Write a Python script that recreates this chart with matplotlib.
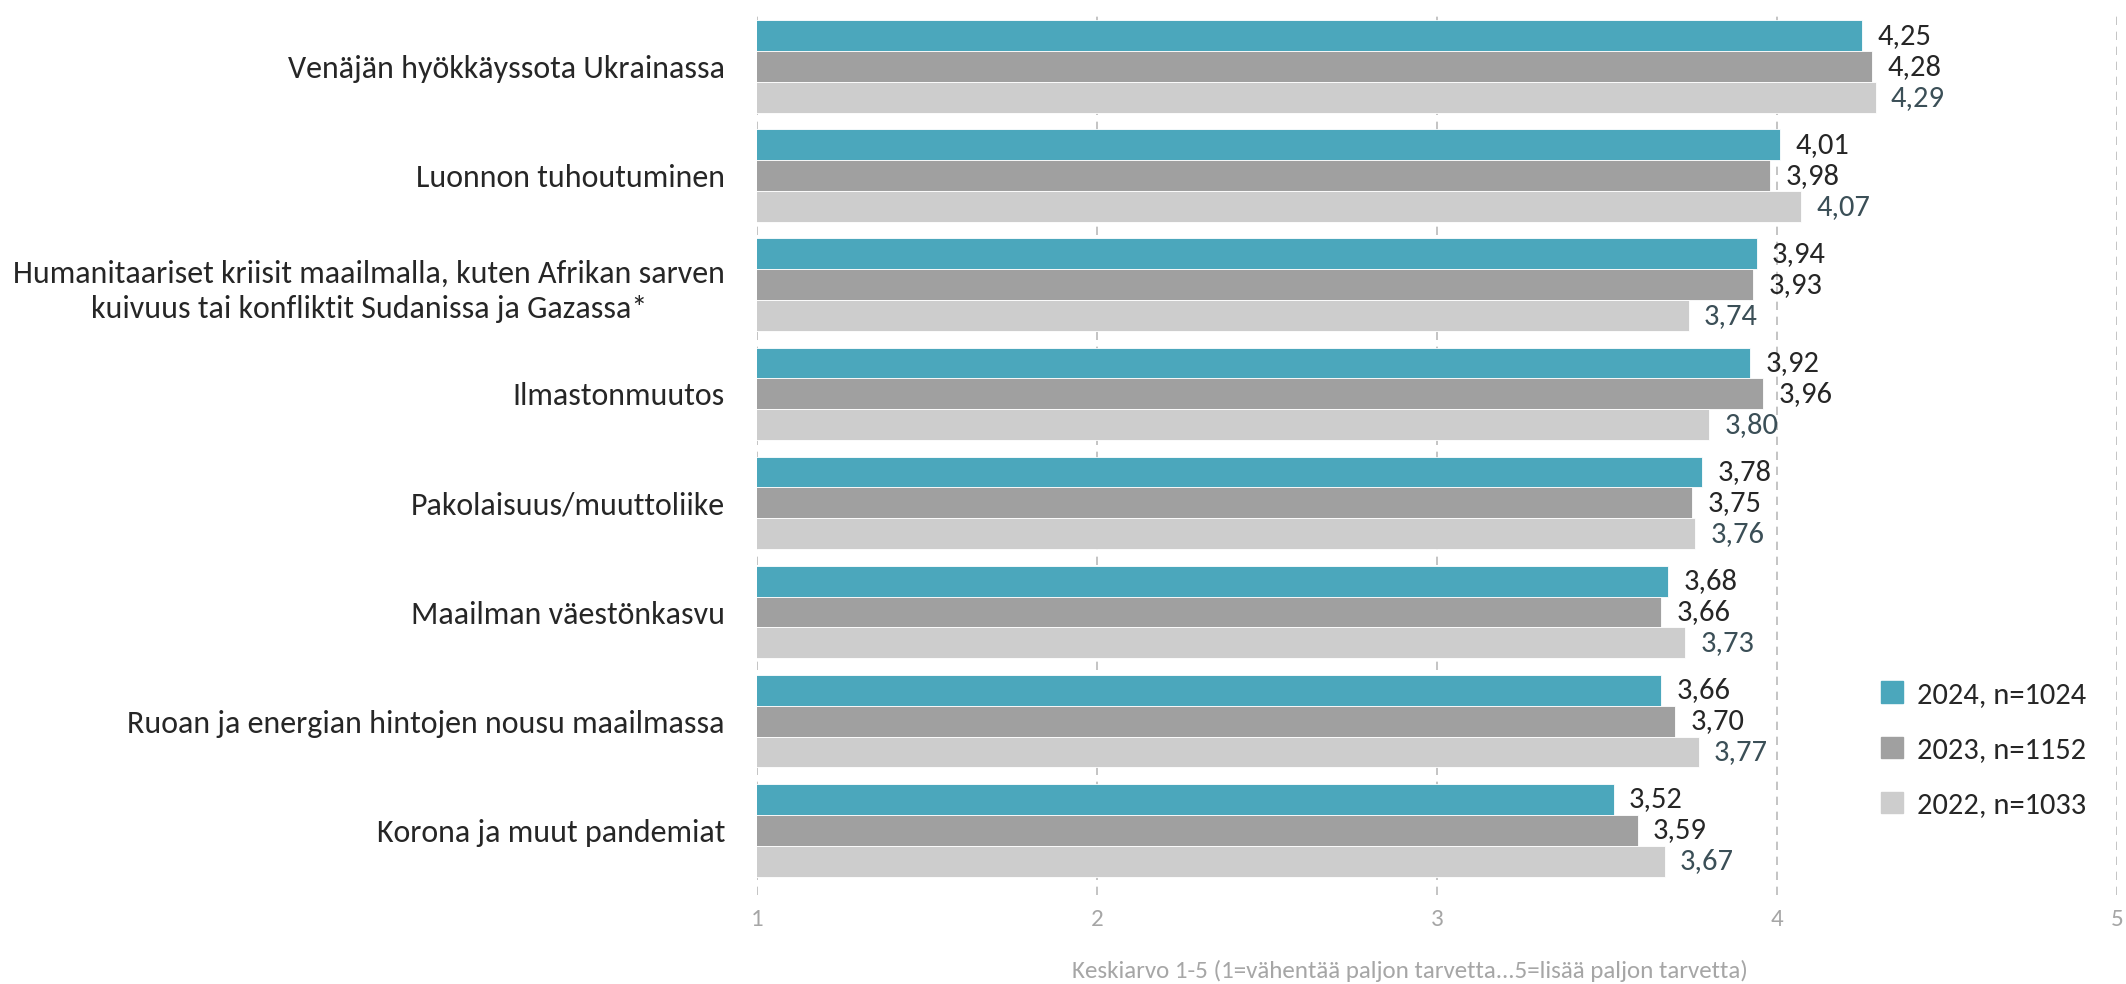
import numpy as np
import matplotlib.pyplot as plt
from matplotlib.patches import Patch

plt.rcParams['font.family'] = ['Carlito', 'Lato', 'DejaVu Sans']

categories = [
    "Venäjän hyökkäyssota Ukrainassa",
    "Luonnon tuhoutuminen",
    "Humanitaariset kriisit maailmalla, kuten Afrikan sarven\nkuivuus tai konfliktit Sudanissa ja Gazassa*",
    "Ilmastonmuutos",
    "Pakolaisuus/muuttoliike",
    "Maailman väestönkasvu",
    "Ruoan ja energian hintojen nousu maailmassa",
    "Korona ja muut pandemiat",
]
vals_2024 = [4.25, 4.01, 3.94, 3.92, 3.78, 3.68, 3.66, 3.52]
vals_2023 = [4.28, 3.98, 3.93, 3.96, 3.75, 3.66, 3.70, 3.59]
vals_2022 = [4.29, 4.07, 3.74, 3.80, 3.76, 3.73, 3.77, 3.67]
series_names = ["2024, n=1024", "2023, n=1152", "2022, n=1033"]
colors = ["#4BA7BC", "#A0A0A0", "#CDCDCD"]
label_colors = ["#262626", "#262626", "#3B4F57"]
x_ticks = [1, 2, 3, 4, 5]
x_title = "Keskiarvo 1-5 (1=vähentää paljon tarvetta...5=lisää paljon tarvetta)"

fig = plt.figure(figsize=(21.26, 9.84), dpi=100)
ax = fig.add_axes([0.356, 0.0904, 0.6398, 0.8976])

y = np.arange(len(categories))
h = 0.284
for k, vals in enumerate([vals_2024, vals_2023, vals_2022]):
    pos = y + (k - 1) * h
    ax.barh(pos, vals, height=h, color=colors[k], edgecolor="white", linewidth=0.6, zorder=2)
    for p, v in zip(pos, vals):
        ax.text(v + 0.045, p, f"{v:.2f}".replace(".", ","), va="center", ha="left",
                fontsize=22, color=label_colors[k], zorder=3)

ax.set_xlim(1, 5)
ax.set_ylim(len(categories) - 1 + 0.596, -0.505)
ax.set_xticks(x_ticks)
ax.set_xticklabels([str(t) for t in x_ticks], fontsize=18, color="#A6A6A6")
ax.tick_params(axis="x", length=0, pad=10)
ax.set_yticks(y)
ax.set_yticklabels(categories, fontsize=23, color="#262626", ha="right",
                   multialignment="center", linespacing=1.35)
ax.tick_params(axis="y", length=0, pad=23)
ax.xaxis.grid(True, linestyle=(0, (5, 4)), color="#BABABA", linewidth=1.2, zorder=0)
for s in ax.spines.values():
    s.set_visible(False)

fig.text(1410 / 2126, 1 - 971 / 984, x_title, ha="center", va="center",
         fontsize=18, color="#A6A6A6")

handles = [Patch(facecolor=c, edgecolor=c) for c in colors]
fig.legend(handles, series_names, loc="center left", bbox_to_anchor=(0.872, 0.238),
           frameon=False, fontsize=22, labelcolor="#262626", handlelength=0.7,
           handleheight=0.7, handletextpad=0.45, labelspacing=0.95)

fig.savefig("out.png", dpi=100)
